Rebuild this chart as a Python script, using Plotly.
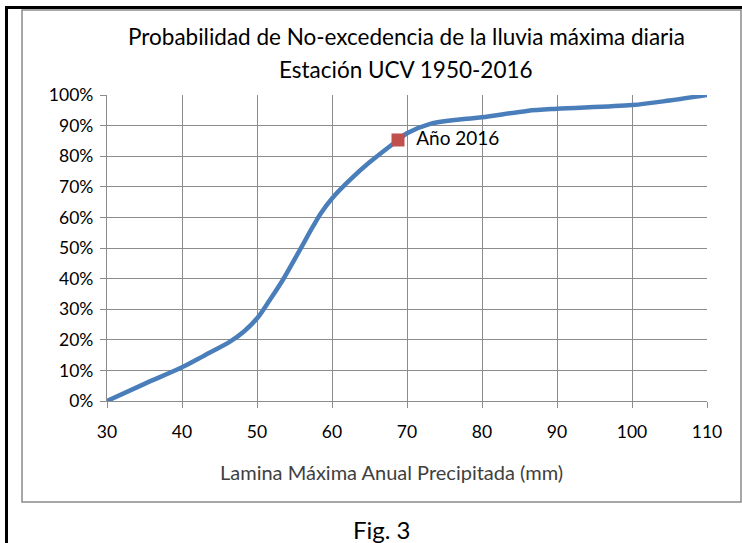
import plotly.graph_objects as go

# Data
lamina_mm = [30, 35, 40, 43, 46.4, 48.3, 50.1, 51.7, 53.5, 55.7, 57.5, 58.5, 60, 62.5, 65, 68.8, 70, 73, 77, 80, 86, 90, 100, 105, 110]
prob_no_exc = [0.0, 0.056, 0.11, 0.149, 0.194, 0.228, 0.273, 0.33, 0.398, 0.493, 0.572, 0.613, 0.662, 0.725, 0.78, 0.853, 0.875, 0.905, 0.92, 0.927, 0.948, 0.955, 0.967, 0.982, 1.0]

year_x = [68.8]
year_y = [0.853]
year_label = "Año 2016"

title_lines = ["Probabilidad de No-excedencia de la lluvia máxima diaria", "Estación UCV 1950-2016"]
x_title = "Lamina Máxima Anual Precipitada (mm)"
fig_caption = "Fig. 3"

x_ticks = [30, 40, 50, 60, 70, 80, 90, 100, 110]
y_ticks = [i / 10 for i in range(11)]

FONT = "Lato"
W, H = 742, 543
L, R, T, B = 107, 707, 95, 401


def px(xp):
    return (xp - L) / (R - L)


def py(yp):
    return (B - yp) / (B - T)


fig = go.Figure()
fig.add_trace(go.Scatter(
    x=lamina_mm, y=prob_no_exc, mode="lines",
    line=dict(color="#4A7EBB", width=4.5, shape="spline", smoothing=0.9),
    hoverinfo="skip", showlegend=False,
))
fig.add_trace(go.Scatter(
    x=year_x, y=year_y, mode="markers+text",
    marker=dict(symbol="square", size=13, color="#C0504D"),
    text=["  " + year_label], textposition="middle right",
    textfont=dict(family=FONT, size=19, color="#000000"),
    showlegend=False,
))

grid = "#8C8C8C"
fig.update_layout(
    width=W, height=H,
    margin=dict(l=L, r=W - R, t=T, b=H - B),
    paper_bgcolor="white", plot_bgcolor="white",
    font=dict(family=FONT, color="#000000"),
    xaxis=dict(
        range=[30, 110], tickvals=x_ticks, ticktext=[str(v) for v in x_ticks],
        showgrid=True, gridcolor=grid, gridwidth=1.3,
        showline=True, linecolor=grid, linewidth=1.3,
        ticks="outside", ticklen=6, tickcolor=grid, tickwidth=1.3,
        tickfont=dict(family=FONT, size=17.5, color="#000000"),
        ticklabelstandoff=9, zeroline=False,
    ),
    yaxis=dict(
        range=[0, 1], tickvals=y_ticks, tickformat=".0%",
        showgrid=True, gridcolor=grid, gridwidth=1.3,
        showline=True, linecolor=grid, linewidth=1.3,
        ticks="outside", ticklen=6, tickcolor=grid, tickwidth=1.3,
        tickfont=dict(family=FONT, size=17.5, color="#000000"),
        ticklabelstandoff=3, zeroline=False,
    ),
    shapes=[
        # chart frame
        dict(type="rect", xref="paper", yref="paper",
             x0=px(22), x1=px(741), y0=py(502), y1=py(10),
             line=dict(color="#8A8A8A", width=1.5), layer="below"),
        # outer black border (left and top)
        dict(type="line", xref="paper", yref="paper",
             x0=px(6.5), x1=px(6.5), y0=py(7.5), y1=py(560),
             line=dict(color="#000000", width=3)),
        dict(type="line", xref="paper", yref="paper",
             x0=px(5), x1=px(760), y0=py(7.5), y1=py(7.5),
             line=dict(color="#000000", width=3)),
    ],
    annotations=[
        dict(text=title_lines[0], xref="paper", yref="paper", x=px(406), y=py(36),
             showarrow=False, font=dict(family=FONT, size=22.5, color="#000000"),
             xanchor="center", yanchor="middle"),
        dict(text=title_lines[1], xref="paper", yref="paper", x=px(406), y=py(69),
             showarrow=False, font=dict(family=FONT, size=22.5, color="#000000"),
             xanchor="center", yanchor="middle"),
        dict(text=x_title, xref="paper", yref="paper", x=px(391), y=py(472),
             showarrow=False, font=dict(family=FONT, size=20, color="#404040"),
             xanchor="center", yanchor="middle"),
        dict(text=fig_caption, xref="paper", yref="paper", x=px(382), y=py(529),
             showarrow=False, font=dict(family=FONT, size=24, color="#000000"),
             xanchor="center", yanchor="middle"),
    ],
)

fig.write_html(
    "out.html",
    config={"displayModeBar": False},
    post_script="document.body.style.margin='0';document.body.style.overflow='hidden';",
)
